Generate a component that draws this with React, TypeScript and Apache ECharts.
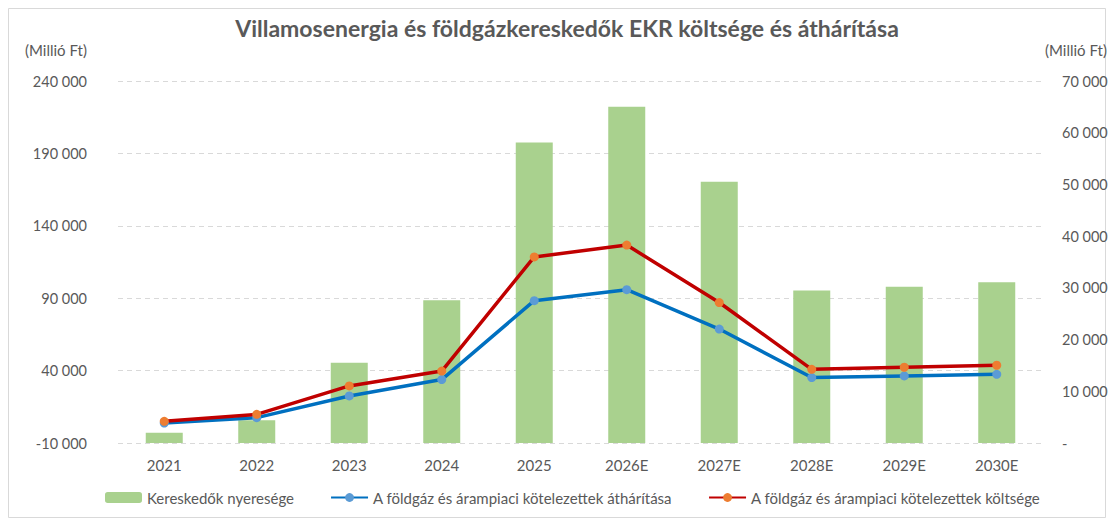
import React, { useEffect, useRef } from "react";
import * as echarts from "echarts";

const categories = ["2021", "2022", "2023", "2024", "2025", "2026E", "2027E", "2028E", "2029E", "2030E"];
const profit = [2000, 4400, 15500, 27600, 58100, 65000, 50500, 29500, 30200, 31100];
const passThrough = [3800, 7500, 22500, 33800, 88300, 95900, 68700, 35200, 36300, 37400];
const cost = [5000, 9800, 29400, 39700, 118500, 126700, 87000, 40900, 42300, 43700];

const titleText = "Villamosenergia és földgázkereskedők EKR költsége és áthárítása";
const unitText = "(Millió Ft)";
const seriesNames = [
  "Kereskedők nyeresége",
  "A földgáz és árampiaci kötelezettek áthárítása",
  "A földgáz és árampiaci kötelezettek költsége",
];

const fmt = (v: number) => {
  const s = Math.abs(Math.round(v)).toString().replace(/\B(?=(\d{3})+(?!\d))/g, " ");
  return (v < 0 ? "-" : "") + s;
};

const FONT = "Lato, 'Open Sans', sans-serif";
const GRAY = "#595959";

export default function App() {
  const ref = useRef<HTMLDivElement>(null);
  useEffect(() => {
    const chart = echarts.init(ref.current!, null, { renderer: "svg" });
    chart.setOption({
      animation: false,
      textStyle: { fontFamily: FONT },
      grid: { left: 118, right: 70, top: 81, bottom: 77 },
      graphic: [
        {
          type: "rect",
          shape: { x: 8.5, y: 8.5, width: 1097, height: 509 },
          style: { fill: "none", stroke: "#D9D9D9", lineWidth: 1 },
          silent: true,
        },
        {
          type: "text",
          x: 567,
          y: 28,
          style: {
            text: titleText,
            fill: GRAY,
            font: `bold 23px ${FONT}`,
            textAlign: "center",
            textVerticalAlign: "middle",
          },
        },
        {
          type: "text",
          x: 25,
          y: 50,
          style: { text: unitText, fill: GRAY, font: `15px ${FONT}`, textAlign: "left", textVerticalAlign: "middle" },
        },
        {
          type: "text",
          x: 1107,
          y: 50,
          style: { text: unitText, fill: GRAY, font: `15px ${FONT}`, textAlign: "right", textVerticalAlign: "middle" },
        },
      ],
      legend: {
        top: 485,
        left: 100,
        itemWidth: 37,
        itemHeight: 11,
        itemGap: 36,
        textStyle: { color: GRAY, fontSize: 15, fontFamily: FONT },
        data: seriesNames,
      },
      xAxis: {
        type: "category",
        data: categories,
        axisLine: { show: false },
        axisTick: { show: false },
        axisLabel: { color: GRAY, fontSize: 15, margin: 14 },
      },
      yAxis: [
        {
          type: "value",
          min: -10000,
          max: 240000,
          interval: 50000,
          axisLine: { show: false },
          axisTick: { show: false },
          axisLabel: { color: GRAY, fontSize: 14.5, margin: 31, formatter: (v: number) => fmt(v) },
          splitLine: { lineStyle: { color: "#D9D9D9", type: [5, 4], width: 1 } },
        },
        {
          type: "value",
          min: 0,
          max: 70000,
          interval: 10000,
          position: "right",
          axisLine: { show: false },
          axisTick: { show: false },
          axisLabel: {
            color: GRAY,
            fontSize: 14.5,
            margin: 19,
            align: "left",
            formatter: (v: number) => (v === 0 ? "-" : fmt(v)),
          },
          splitLine: { show: false },
        },
      ],
      series: [
        {
          name: seriesNames[0],
          type: "bar",
          yAxisIndex: 1,
          data: profit,
          barCategoryGap: "60%",
          itemStyle: { color: "#A9D18E" },
        },
        {
          name: seriesNames[1],
          type: "line",
          yAxisIndex: 0,
          data: passThrough,
          symbol: "circle",
          symbolSize: 9,
          lineStyle: { color: "#0070C0", width: 3.5 },
          itemStyle: { color: "#5B9BD5" },
        },
        {
          name: seriesNames[2],
          type: "line",
          yAxisIndex: 0,
          data: cost,
          symbol: "circle",
          symbolSize: 9,
          lineStyle: { color: "#C00000", width: 3.5 },
          itemStyle: { color: "#ED7D31" },
        },
      ],
    });
    return () => chart.dispose();
  }, []);
  return (
    <div
      ref={ref}
      style={{ position: "fixed", left: 0, top: 0, width: 1113, height: 520, background: "#fff" }}
    />
  );
}
